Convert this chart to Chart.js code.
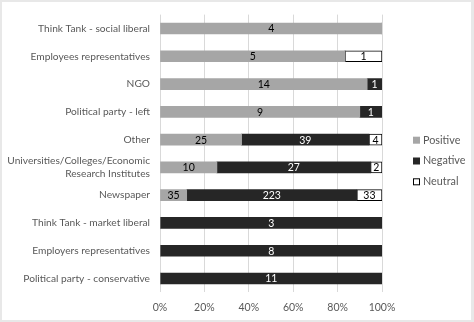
<!DOCTYPE html>
<html>
<head>
<meta charset="utf-8">
<script src="https://cdn.jsdelivr.net/npm/chart.js@4/dist/chart.umd.min.js"></script>
<style>
  html, body { margin: 0; padding: 0; background: #e8e8e8; }
  #wrap { position: absolute; left: 2px; top: 2px; width: 469px; height: 318px; background: #fff; }
</style>
</head>
<body>
<div id="wrap"><canvas id="chart" width="469" height="318"></canvas></div>
<script>
const categories = [
    "Think Tank - social liberal",
    "Employees representatives",
    "NGO",
    "Political party - left",
    "Other",
    ["Universities/Colleges/Economic", "Research Institutes"],
    "Newspaper",
    "Think Tank - market liberal",
    "Employers representatives",
    "Political party - conservative"
];
const positive = [4, 5, 14, 9, 25, 10, 35, 0, 0, 0];
const negative = [0, 0, 1, 1, 39, 27, 223, 3, 8, 11];
const neutral  = [0, 1, 0, 0, 4, 2, 33, 0, 0, 0];
const xTicks = [0, 20, 40, 60, 80, 100];

const totals = categories.map((c, i) => positive[i] + negative[i] + neutral[i]);
const pct = arr => arr.map((v, i) => v / totals[i] * 100);

const FONT = "Lato";
const GREY_TEXT = "#595959";

const series = [
    { label: "Positive", counts: positive, fill: "#a6a6a6", border: "#a6a6a6", bw: 0, text: "#000" },
    { label: "Negative", counts: negative, fill: "#262626", border: "#262626", bw: 0, text: "#fff" },
    { label: "Neutral", counts: neutral, fill: "#ffffff", border: "#000000", bw: 1, text: "#000" }
];

// numbers inside each segment
const valueLabels = {
    id: "valueLabels",
    afterDatasetsDraw(chart) {
        const ctx = chart.ctx;
        ctx.save();
        ctx.font = `10.5px ${FONT}`;
        ctx.textAlign = "center";
        ctx.textBaseline = "middle";
        chart.data.datasets.forEach((ds, di) => {
            const meta = chart.getDatasetMeta(di);
            meta.data.forEach((bar, i) => {
                const n = series[di].counts[i];
                if (!n) return;
                ctx.fillStyle = series[di].text;
                ctx.fillText(n, (bar.x + bar.base) / 2, bar.y + 0.5);
            });
        });
        ctx.restore();
    }
};

// legend on the right
const sideLegend = {
    id: "sideLegend",
    afterDraw(chart) {
        const ctx = chart.ctx;
        const area = chart.chartArea;
        const x = area.right + 31;
        const midY = chart.height / 2;
        const step = 20.8;
        ctx.save();
        ctx.font = `10.8px ${FONT}`;
        ctx.textBaseline = "middle";
        ctx.textAlign = "left";
        series.forEach((s, i) => {
            const y = midY + (i - 1) * step;
            ctx.fillStyle = s.fill;
            ctx.fillRect(x, y - 3.5, 7, 7);
            if (s.bw) {
                ctx.strokeStyle = s.border;
                ctx.lineWidth = 1;
                ctx.strokeRect(x + 0.5, y - 3, 6, 6);
            }
            ctx.fillStyle = GREY_TEXT;
            ctx.fillText(s.label, x + 10, y);
        });
        ctx.restore();
    }
};

new Chart(document.getElementById("chart"), {
    type: "bar",
    data: {
        labels: categories,
        datasets: series.map(s => ({
            label: s.label,
            data: pct(s.counts),
            backgroundColor: s.fill,
            borderColor: s.border,
            borderWidth: s.bw,
            borderSkipped: false,
            barThickness: 11
        }))
    },
    options: {
        indexAxis: "y",
        responsive: false,
        animation: false,
        layout: { padding: { top: 12.6, right: 89, bottom: 0, left: 0 } },
        plugins: {
            legend: { display: false },
            tooltip: { enabled: false }
        },
        scales: {
            x: {
                stacked: true,
                min: 0,
                max: 100,
                afterBuildTicks: scale => { scale.ticks = xTicks.map(v => ({ value: v })); },
                afterFit: scale => { scale.height = 27.6; },
                grid: { color: "#d9d9d9", drawTicks: false },
                border: { display: false },
                ticks: {
                    padding: 9,
                    color: GREY_TEXT,
                    font: { family: FONT, size: 10.5 },
                    callback: v => v + "%"
                }
            },
            y: {
                stacked: true,
                afterFit: scale => {
                    scale.width = 158;
                    scale.paddingTop = 0;
                    scale.paddingBottom = 0;
                },
                grid: { display: false, drawTicks: false },
                border: { display: false },
                ticks: {
                    padding: 10,
                    color: GREY_TEXT,
                    font: { family: FONT, size: 10.2, lineHeight: 1.3 },
                    autoSkip: false
                }
            }
        }
    },
    plugins: [valueLabels, sideLegend]
});
</script>
</body>
</html>
